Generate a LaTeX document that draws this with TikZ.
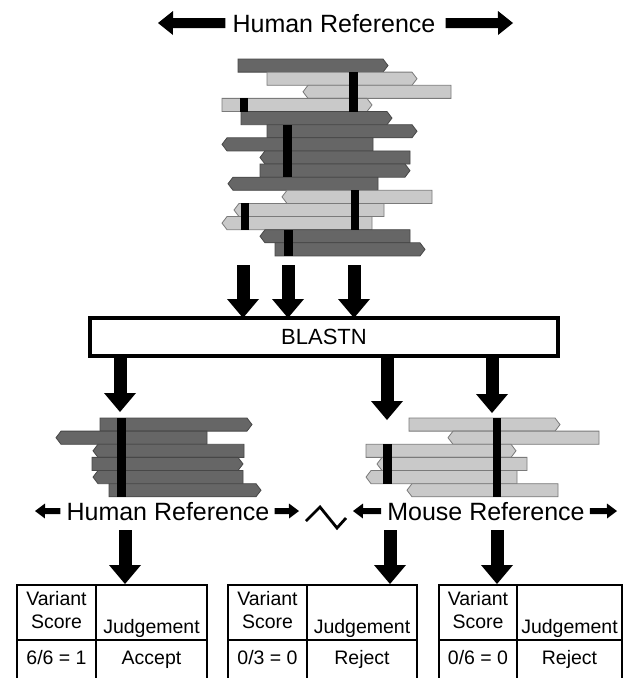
\documentclass[tikz,border=0pt]{standalone}
\usepackage{fontspec}
\setmainfont{Liberation Sans}
\usetikzlibrary{arrows.meta}
\newcommand\mybarR[4]{\draw[#4] (#1,#3) -- ({#2-5},#3) -- (#2,{#3+6.56}) -- ({#2-5},{#3+13.13}) -- (#1,{#3+13.13}) -- cycle;}
\newcommand\mybarL[4]{\draw[#4] (#2,#3) -- ({#1+5},#3) -- (#1,{#3+6.56}) -- ({#1+5},{#3+13.13}) -- (#2,{#3+13.13}) -- cycle;}
\newcommand\myvtable[6]{%
  \draw[tabline] (#1,700) -- (#1,585) -- (#3,585) -- (#3,700);
  \draw[tabline] (#2,585) -- (#2,700);
  \draw[tabline] (#1,640) -- (#3,640);
  \node[tabtext, align=center] (#6v) at ({(#1+#2)/2},610.5) {Variant\\Score};
  \node[tabtext, anchor=base] (#6j) at ({(#2+#3)/2},633) {Judgement};
  \node[tabtext, anchor=base] (#6s) at ({(#1+#2)/2},664) {#4};
  \node[tabtext, anchor=base] (#6d) at ({(#2+#3)/2},664) {#5};
}
\begin{document}
\begin{tikzpicture}[x=1pt,y=-1pt,
  dk/.style={fill=black!60, draw=black!72, line width=0.8pt},
  lt/.style={fill=black!21, draw=black!52, line width=0.8pt},
  vmark/.style={fill=black},
  bigarrow/.style={line width=13pt, -{Triangle[width=32pt,length=19pt,line width=0pt]}},
  titlearrow/.style={line width=10pt, -{Triangle[width=24pt,length=15pt,line width=0pt]}},
  smallarrow/.style={line width=6pt, -{Triangle[width=15pt,length=10pt,line width=0pt]}},
  bigtext/.style={inner sep=0pt, font=\fontsize{25}{30}\selectfont},
  tabline/.style={line width=2.5pt},
  tabtext/.style={inner sep=0pt, font=\fontsize{19.5}{23}\selectfont},
]
\clip (0,0) rectangle (624,678);
\fill[white] (0,0) rectangle (624,678);

% ---- title
\node[bigtext, anchor=base] (title) at (334,32) {Human Reference};
\coordinate (tl) at (158,23);
\coordinate (tr) at (513,23);
\draw[titlearrow, shorten <=7pt] (title.west) -- (tl);
\draw[titlearrow, shorten <=10pt] (title.east) -- (tr);

% ---- top stack
\mybarR{238}{388}{59}{dk}
\mybarR{267}{417}{72.13}{lt}
\mybarL{303}{451}{85.26}{lt}
\mybarR{222}{372}{98.39}{lt}
\mybarR{241}{392}{111.52}{dk}
\mybarR{267}{417}{124.65}{dk}
\mybarL{222}{373}{137.78}{dk}
\mybarL{260}{410}{150.91}{dk}
\mybarR{260}{410}{164.04}{dk}
\mybarL{228}{378}{177.17}{dk}
\mybarL{282}{432}{190.3}{lt}
\mybarL{234}{384}{203.43}{lt}
\mybarL{222}{372}{216.56}{lt}
\mybarL{260}{410}{229.69}{dk}
\mybarR{275}{425}{242.82}{dk}
\fill[vmark] (349,72.13) rectangle (357.5,111.52);
\fill[vmark] (240,98.39) rectangle (247.5,111.52);
\fill[vmark] (283,124.65) rectangle (291.5,177.17);
\fill[vmark] (350.5,190.3) rectangle (358.5,229.69);
\fill[vmark] (240.5,203.43) rectangle (248.5,229.69);
\fill[vmark] (284,229.69) rectangle (292.5,255.95);

% ---- BLASTN
\node[draw, line width=4pt, minimum width=468pt, minimum height=38pt, inner sep=0pt,
      font=\fontsize{22}{26}\selectfont] (blast) at (324,337) {BLASTN};
\coordinate (s1) at (243,265);
\coordinate (s2) at (288,265);
\coordinate (s3) at (354,265);
\draw[bigarrow, shorten >=-2pt] (s1) -- (s1 |- blast.north);
\draw[bigarrow, shorten >=-2pt] (s2) -- (s2 |- blast.north);
\draw[bigarrow, shorten >=-2pt] (s3) -- (s3 |- blast.north);
\coordinate (h1) at (120,412);
\coordinate (m1) at (387,420);
\coordinate (m2) at (492,413);
\draw[bigarrow, shorten <=-2pt] (blast.south -| h1) -- (h1);
\draw[bigarrow, shorten <=-2pt] (blast.south -| m1) -- (m1);
\draw[bigarrow, shorten <=-4pt] (blast.south -| m2) -- (m2);

% ---- lower left stack (human)
\mybarR{100}{252}{418}{dk}
\mybarL{56}{207}{431.13}{dk}
\mybarL{93}{244}{444.26}{dk}
\mybarR{92}{243}{457.39}{dk}
\mybarL{93}{243}{470.52}{dk}
\mybarR{109}{261}{483.65}{dk}
\fill[vmark] (117,418) rectangle (126,496.78);

% ---- lower right stack (mouse)
\mybarR{409}{560}{418}{lt}
\mybarL{448}{599}{431.13}{lt}
\mybarR{366}{516}{444.26}{lt}
\mybarL{377}{527}{457.39}{lt}
\mybarL{366}{517}{470.52}{lt}
\mybarL{407}{558}{483.65}{lt}
\fill[vmark] (492.5,418) rectangle (500.5,496.78);
\fill[vmark] (383,444.26) rectangle (392,483.65);

% ---- reference labels
\node[bigtext, anchor=base] (hum) at (168,520) {Human Reference};
\node[bigtext, anchor=base] (mou) at (486,520) {Mouse Reference};
\coordinate (hl) at (35,511);
\coordinate (hr) at (299,511);
\coordinate (ml) at (353,511);
\coordinate (mr) at (617,511);
\draw[smallarrow, shorten <=6pt] (hum.west) -- (hl);
\draw[smallarrow, shorten <=5pt] (hum.east) -- (hr);
\draw[smallarrow, shorten <=6pt] (mou.west) -- (ml);
\draw[smallarrow, shorten <=5pt] (mou.east) -- (mr);
\draw[line width=2.8pt] (306,521) -- (320,507) -- (337,528) -- (346,518);

% ---- arrows to tables
\coordinate (ta) at (125,530);
\coordinate (tb) at (390,530);
\coordinate (tc) at (497,530);
\draw[bigarrow] (ta) -- (125,584);
\draw[bigarrow] (tb) -- (390,584);
\draw[bigarrow] (tc) -- (497,584);

% ---- tables
\myvtable{17}{96}{207}{6/6 = 1}{Accept}{ta}
\myvtable{228}{307}{417}{0/3 = 0}{Reject}{tb}
\myvtable{439}{517}{622}{0/6 = 0}{Reject}{tc}
\end{tikzpicture}
\end{document}
